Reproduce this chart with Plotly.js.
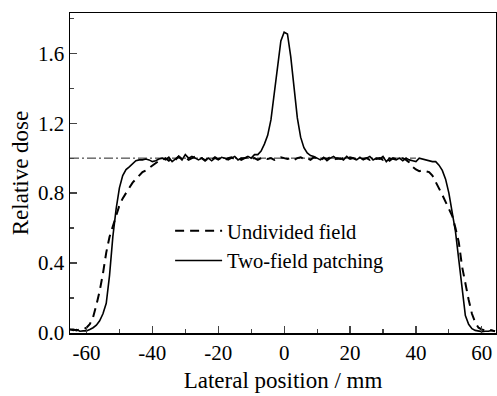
<!DOCTYPE html>
<html>
<head>
<meta charset="utf-8">
<script src="https://cdn.plot.ly/plotly-3.0.1.min.js"></script>
<style>html,body{margin:0;padding:0;background:#fff;}#chart{width:497px;height:396px;}</style>
</head>
<body>
<div id="chart"></div>
<script>
// Lateral position (mm)
var positions = [-65,-64,-63,-62,-61,-60,-59,-58,-57,-56,-55,-54,-53,-52,-51,-50,-49,-48,-47,-46,-45,-44,-43,-42,-41,-40,-39,-38,-37,-36,-35,-34,-33,-32,-31,-30,-29,-28,-27,-26,-25,-24,-23,-22,-21,-20,-19,-18,-17,-16,-15,-14,-13,-12,-11,-10,-9,-8,-7,-6,-5,-4,-3,-2,-1,0,1,2,3,4,5,6,7,8,9,10,11,12,13,14,15,16,17,18,19,20,21,22,23,24,25,26,27,28,29,30,31,32,33,34,35,36,37,38,39,40,41,42,43,44,45,46,47,48,49,50,51,52,53,54,55,56,57,58,59,60,61,62,63,64];

// Undivided field (dashed)
var undivided = [0.02,0.02,0.015,0.02,0.02,0.03,0.05,0.09,0.16,0.24,0.34,0.46,0.55,0.61,0.67,0.73,0.77,0.80,0.83,0.86,0.88,0.90,0.92,0.93,0.945,0.955,0.97,0.985,0.99,1.0,0.985,1.0,0.99,1.01,0.995,1.005,0.99,1.0,1.01,0.995,1.0,0.985,1.0,0.99,1.005,0.995,1.0,0.99,1.0,1.005,0.995,1.0,0.99,1.0,1.005,0.995,1.0,0.99,1.0,1.005,0.995,1.0,0.99,1.0,1.005,1.0,0.995,1.0,0.99,1.0,1.005,0.995,1.0,0.99,1.005,1.0,0.99,1.0,0.995,1.005,0.99,1.0,0.995,1.0,0.99,1.005,1.0,0.99,1.0,0.995,1.0,0.99,1.005,0.995,1.0,0.99,1.0,0.985,1.0,0.995,1.0,1.0,0.99,0.975,0.95,0.935,0.925,0.93,0.925,0.92,0.90,0.865,0.83,0.79,0.75,0.71,0.67,0.60,0.52,0.38,0.28,0.19,0.11,0.06,0.03,0.02,0.015,0.02,0.015,0.01];

// Two-field patching (solid)
var twoField = [0.02,0.015,0.02,0.01,0.012,0.012,0.02,0.03,0.045,0.07,0.11,0.17,0.33,0.55,0.71,0.83,0.90,0.935,0.95,0.97,0.985,0.99,0.99,0.995,0.99,0.98,0.985,0.995,1.0,0.99,1.005,0.98,0.995,1.01,0.99,1.02,1.0,1.01,1.0,0.99,1.0,0.99,1.0,0.985,1.0,0.99,1.005,1.0,0.99,1.0,1.01,0.99,1.0,1.0,1.01,1.0,1.02,1.02,1.04,1.08,1.13,1.22,1.36,1.52,1.67,1.72,1.71,1.58,1.42,1.23,1.12,1.06,1.03,1.015,1.01,1.0,0.99,1.005,0.985,1.0,1.01,0.995,1.0,0.99,1.01,0.995,1.0,0.99,1.005,0.99,1.0,1.01,0.99,1.0,0.995,1.01,0.98,1.0,0.995,0.99,1.0,0.985,1.0,0.99,0.985,0.98,1.0,0.995,0.99,0.985,0.98,0.98,0.96,0.93,0.88,0.80,0.70,0.58,0.42,0.24,0.10,0.05,0.025,0.015,0.01,0.008,0.01,0.01,0.015,0.01];

// Reference line (relative dose = 1.0)
var refX = [-65, 40];
var refY = [1.0, 1.0];

var xTicks = [-60,-40,-20,0,20,40,60];
var xTickText = ['-60','-40','-20','0','20','40','60'];
var yTicks = [0.0,0.4,0.8,1.2,1.6];
var yTickText = ['0.0','0.4','0.8','1.2','1.6'];

var font = 'Liberation Serif';

var traces = [
  {x: refX, y: refY, mode: 'lines', showlegend: false, hoverinfo: 'skip',
   line: {color: '#222', width: 1, dash: '9px,3px,2px,3px'}},
  {x: positions, y: undivided, mode: 'lines', name: 'Undivided field',
   line: {color: '#000', width: 2, dash: '9px,6px'}},
  {x: positions, y: twoField, mode: 'lines', name: 'Two-field patching',
   line: {color: '#000', width: 1.6}}
];

var layout = {
  width: 497, height: 396,
  margin: {l: 70, r: 1, t: 13, b: 63},
  paper_bgcolor: '#fff', plot_bgcolor: '#fff',
  font: {family: font, color: '#000', size: 21},
  showlegend: true,
  legend: {x: 0.235, y: 0.272, xanchor: 'left', yanchor: 'middle',
    bgcolor: 'rgba(0,0,0,0)', font: {family: font, size: 20.5, color: '#000'},
    itemwidth: 47, tracegroupgap: 0},
  xaxis: {
    range: [-65, 64.3], tickvals: xTicks, ticktext: xTickText, ticks: 'inside', ticklen: 7, tickwidth: 1.3,
    minor: {dtick: 10, tick0: 0, ticks: 'inside', ticklen: 4, tickwidth: 1.2},
    showline: true, linewidth: 1.5, linecolor: '#000', mirror: true,
    showgrid: false, zeroline: false,
    tickfont: {family: font, size: 21, color: '#000'},
    title: {text: 'Lateral position / mm', font: {family: font, size: 23, color: '#000'}, standoff: 8}
  },
  yaxis: {
    range: [0, 1.83], tickvals: yTicks, ticktext: yTickText, ticks: 'inside', ticklen: 7, tickwidth: 1.3,
    minor: {dtick: 0.2, tick0: 0, ticks: 'inside', ticklen: 4, tickwidth: 1.2},
    showline: true, linewidth: 1.5, linecolor: '#000', mirror: true,
    showgrid: false, zeroline: false,
    tickfont: {family: font, size: 21, color: '#000'},
    title: {text: 'Relative dose', font: {family: font, size: 23, color: '#000'}, standoff: 3}
  }
};

Plotly.newPlot('chart', traces, layout, {displayModeBar: false, staticPlot: true});
</script>
</body>
</html>
